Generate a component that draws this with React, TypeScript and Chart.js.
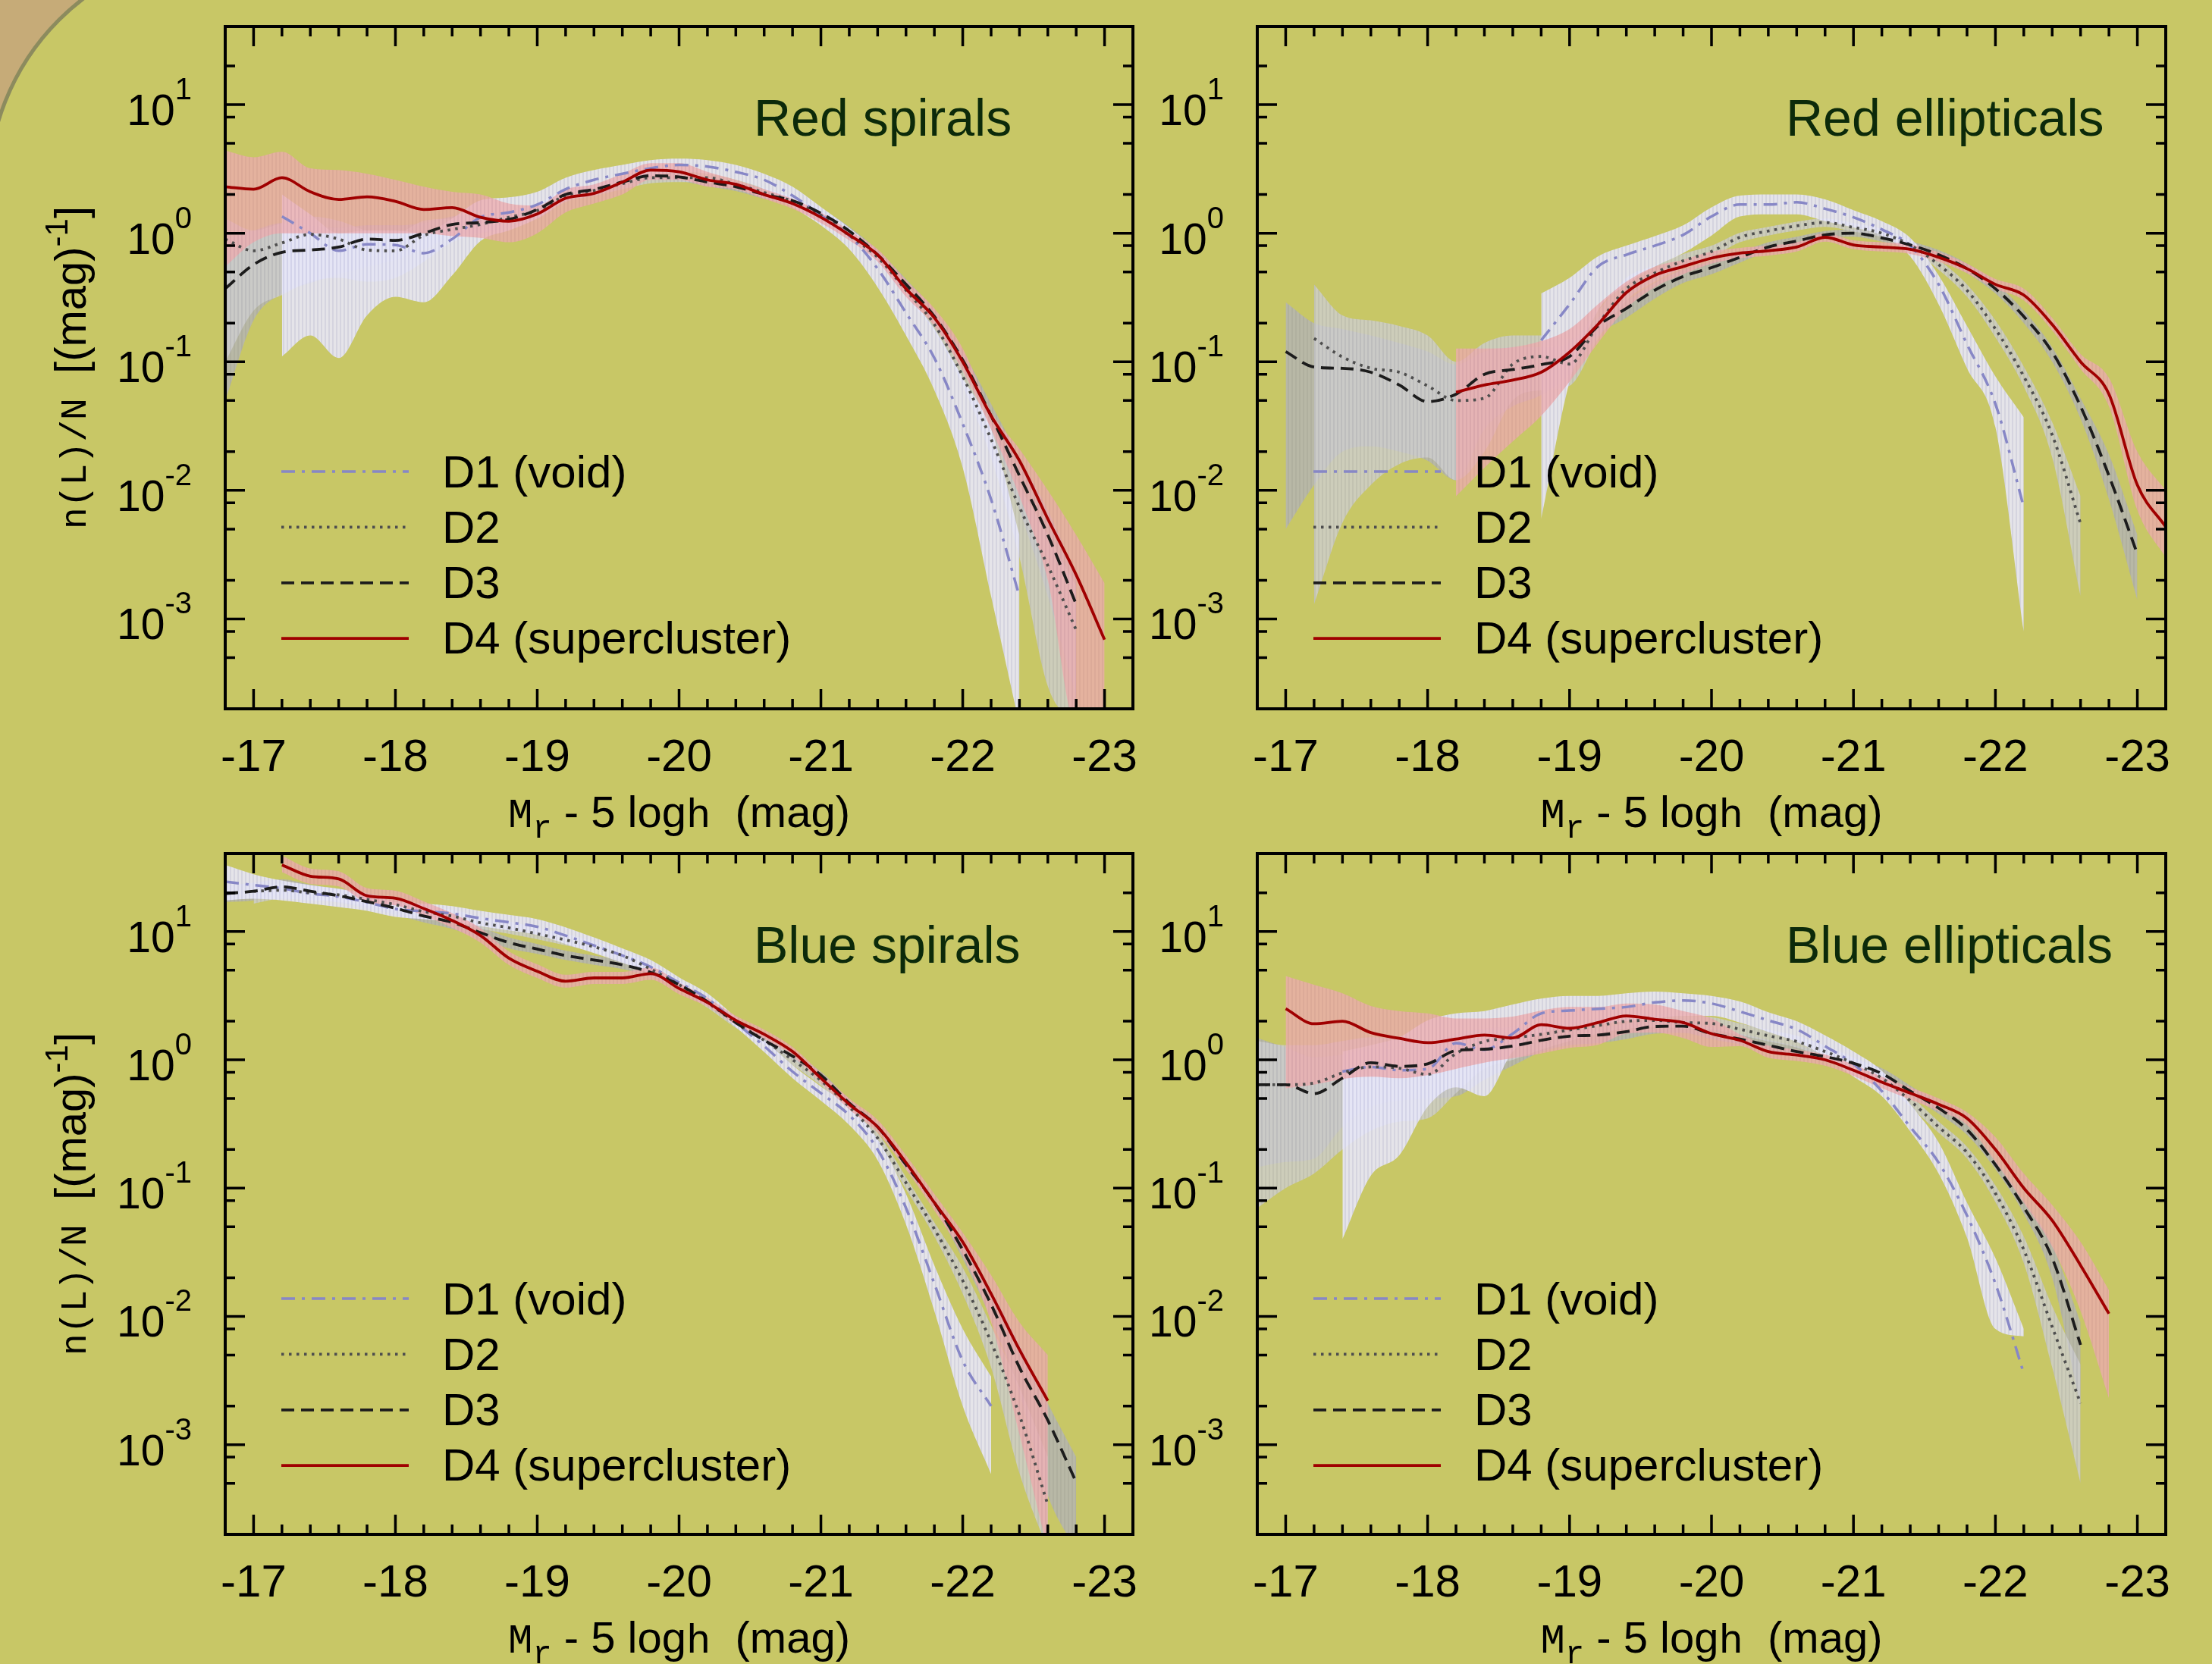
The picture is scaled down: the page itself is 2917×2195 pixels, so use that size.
import React, { useEffect, useRef } from "react";
import { Chart, registerables } from "chart.js";

Chart.register(...registerables);

const W = 2917;
const H = 2195;
const _ = null;

// absolute magnitude grid (M_r - 5 log h)
const MAG = [-16.8, -17.0, -17.2, -17.4, -17.6, -17.8, -18.0, -18.2, -18.4, -18.6, -18.8, -19.0, -19.2, -19.4, -19.6, -19.8, -20.0, -20.2, -20.4, -20.6, -20.8, -21.0, -21.2, -21.4, -21.6, -21.8, -22.0, -22.2, -22.4, -22.6, -22.8, -23.0, -23.2];

const X_TICKS = [-17, -18, -19, -20, -21, -22, -23];
const X_TICK_LABELS = ["-17", "-18", "-19", "-20", "-21", "-22", "-23"];
const Y_TICKS = [10, 1, 0.1, 0.01, 0.001];
const Y_TICK_EXP = ["1", "0", "-1", "-2", "-3"];
const Y_MINOR = [20, 8, 5, 2, 0.8, 0.5, 0.2, 0.08, 0.05, 0.02, 0.008, 0.005, 0.002, 0.0008, 0.0005];
const SERIES = ["D1 (void)", "D2", "D3", "D4 (supercluster)"];
const TITLES = ["Red spirals", "Red ellipticals", "Blue spirals", "Blue ellipticals"];

// ---------- Red spirals ----------
const RS_D1 = [_, _, 1.35, 1.0, 0.73, 0.82, 0.81, 0.70, 0.90, 1.33, 1.45, 1.67, 2.2, 2.6, 2.9, 3.2, 3.4, 3.3, 3.0, 2.6, 1.96, 1.38, 0.96, 0.53, 0.24, 0.107, 0.033, 0.0085, 0.0015, _, _, _, _];
const RS_D1_LO = [_, _, 0.11, 0.16, 0.107, 0.23, 0.32, 0.29, 0.47, 0.87, 1.05, 1.3, 1.8, 2.2, 2.5, 2.8, 3.0, 2.9, 2.6, 2.2, 1.6, 1.15, 0.75, 0.38, 0.16, 0.06, 0.015, 0.0015, 0.00015, _, _, _, _];
const RS_D1_HI = [_, _, 2.0, 1.4, 1.0, 1.05, 1.05, 1.0, 1.3, 1.8, 1.9, 2.1, 2.7, 3.1, 3.4, 3.7, 3.8, 3.7, 3.4, 2.9, 2.3, 1.6, 1.1, 0.7, 0.35, 0.18, 0.075, 0.03, 0.0045, _, _, _, _];
const RS_D2 = [0.9, 0.73, 0.84, 0.98, 0.90, 0.74, 0.73, 0.96, 1.07, 1.17, 1.33, 1.5, 1.96, 2.15, 2.43, 2.7, 2.7, 2.7, 2.4, 2.07, 1.77, 1.38, 0.96, 0.65, 0.36, 0.195, 0.077, 0.025, 0.0074, 0.0026, 0.00082, _, _];
const RS_D2_LO = [0.1, 0.25, 0.33, 0.42, 0.45, 0.42, 0.45, 0.6, 0.85, 1.0, 1.15, 1.3, 1.75, 1.95, 2.2, 2.45, 2.5, 2.5, 2.2, 1.9, 1.62, 1.26, 0.88, 0.59, 0.32, 0.17, 0.065, 0.018, 0.003, 0.0003, 0.00015, _, _];
const RS_D2_HI = [1.3, 1.05, 1.2, 1.35, 1.25, 1.05, 1.0, 1.25, 1.3, 1.35, 1.5, 1.7, 2.2, 2.4, 2.7, 3.0, 3.0, 2.9, 2.6, 2.25, 1.93, 1.5, 1.05, 0.72, 0.4, 0.22, 0.09, 0.033, 0.011, 0.0045, 0.0018, _, _];
const RS_D3 = [0.37, 0.57, 0.71, 0.74, 0.78, 0.90, 0.88, 1.0, 1.17, 1.21, 1.28, 1.53, 2.0, 2.19, 2.5, 2.8, 2.74, 2.5, 2.3, 2.0, 1.79, 1.43, 1.04, 0.68, 0.40, 0.225, 0.103, 0.038, 0.013, 0.0045, 0.0013, _, _];
const RS_D3_LO = [0.05, 0.21, 0.34, 0.41, 0.48, 0.55, 0.62, 0.75, 0.95, 1.0, 1.1, 1.35, 1.8, 2.0, 2.3, 2.6, 2.55, 2.32, 2.13, 1.85, 1.65, 1.32, 0.96, 0.62, 0.36, 0.2, 0.088, 0.03, 0.007, 0.0015, 0.00025, _, _];
const RS_D3_HI = [0.9, 1.05, 1.2, 1.15, 1.1, 1.15, 1.15, 1.2, 1.35, 1.4, 1.45, 1.7, 2.2, 2.4, 2.7, 3.0, 2.95, 2.7, 2.48, 2.16, 1.93, 1.55, 1.12, 0.74, 0.44, 0.25, 0.12, 0.047, 0.018, 0.007, 0.0022, _, _];
const RS_D4 = [2.3, 2.2, 2.7, 2.1, 1.83, 1.92, 1.77, 1.53, 1.58, 1.33, 1.24, 1.41, 1.87, 2.04, 2.5, 3.1, 3.0, 2.6, 2.4, 2.0, 1.7, 1.33, 0.97, 0.68, 0.37, 0.22, 0.10, 0.038, 0.017, 0.006, 0.0022, 0.00069, _];
const RS_D4_LO = [0.55, 0.85, 1.0, 1.0, 1.0, 1.0, 1.0, 1.0, 0.95, 0.92, 0.85, 1.0, 1.45, 1.7, 2.0, 2.6, 2.6, 2.3, 2.2, 1.85, 1.55, 1.2, 0.88, 0.6, 0.32, 0.19, 0.085, 0.03, 0.009, 0.002, 0.00015, 0.00015, _];
const RS_D4_HI = [4.4, 3.9, 4.3, 3.2, 3.1, 2.9, 2.6, 2.3, 2.1, 2.0, 1.7, 1.64, 2.2, 2.4, 2.9, 3.5, 3.5, 3.0, 2.6, 2.2, 1.85, 1.45, 1.05, 0.75, 0.43, 0.26, 0.127, 0.041, 0.021, 0.01, 0.0045, 0.0019, _];

// ---------- Red ellipticals ----------
const RE_D1 = [_, _, _, _, _, _, _, _, _, _, 0.147, 0.28, 0.55, 0.68, 0.8, 0.97, 1.35, 1.67, 1.67, 1.74, 1.55, 1.33, 1.07, 0.80, 0.40, 0.137, 0.047, 0.0074, _, _, _, _, _];
const RE_D1_LO = [_, _, _, _, _, _, _, _, _, _, 0.006, 0.07, 0.25, 0.40, 0.55, 0.7, 0.96, 1.35, 1.4, 1.4, 1.24, 1.11, 0.96, 0.66, 0.28, 0.089, 0.031, 0.0008, _, _, _, _, _];
const RE_D1_HI = [_, _, _, _, _, _, _, _, _, _, 0.34, 0.45, 0.66, 0.8, 0.95, 1.15, 1.59, 1.96, 2.0, 2.0, 1.83, 1.51, 1.24, 0.92, 0.47, 0.19, 0.077, 0.037, _, _, _, _, _];
const RE_D2 = [_, _, 0.152, 0.109, 0.089, 0.083, 0.065, 0.050, 0.052, 0.096, 0.11, 0.096, 0.195, 0.37, 0.49, 0.61, 0.72, 0.93, 1.04, 1.14, 1.21, 1.11, 1.0, 0.81, 0.57, 0.36, 0.18, 0.077, 0.027, 0.0055, _, _, _];
const RE_D2_LO = [_, _, 0.0013, 0.0056, 0.011, 0.016, 0.018, 0.012, 0.02, 0.05, 0.06, 0.065, 0.15, 0.3, 0.42, 0.54, 0.65, 0.85, 0.96, 1.05, 1.12, 1.03, 0.93, 0.75, 0.52, 0.32, 0.155, 0.064, 0.018, 0.0015, _, _, _];
const RE_D2_HI = [_, _, 0.4, 0.23, 0.21, 0.19, 0.16, 0.1, 0.14, 0.16, 0.16, 0.15, 0.25, 0.45, 0.56, 0.69, 0.8, 1.01, 1.12, 1.23, 1.3, 1.2, 1.08, 0.88, 0.62, 0.4, 0.21, 0.092, 0.034, 0.009, _, _, _];
const RE_D3 = [_, 0.12, 0.091, 0.089, 0.083, 0.066, 0.049, 0.056, 0.080, 0.087, 0.095, 0.11, 0.19, 0.26, 0.36, 0.46, 0.54, 0.65, 0.78, 0.87, 0.97, 1.0, 0.92, 0.81, 0.68, 0.53, 0.37, 0.225, 0.119, 0.045, 0.013, 0.0032, _];
const RE_D3_LO = [_, 0.005, 0.011, 0.02, 0.022, 0.02, 0.017, 0.012, 0.03, 0.045, 0.055, 0.08, 0.16, 0.22, 0.31, 0.41, 0.48, 0.59, 0.72, 0.81, 0.91, 0.94, 0.86, 0.76, 0.63, 0.49, 0.34, 0.2, 0.1, 0.036, 0.0085, 0.0014, _];
const RE_D3_HI = [_, 0.29, 0.2, 0.18, 0.16, 0.14, 0.12, 0.095, 0.12, 0.13, 0.13, 0.14, 0.22, 0.3, 0.41, 0.52, 0.6, 0.71, 0.85, 0.94, 1.04, 1.07, 0.99, 0.87, 0.74, 0.58, 0.41, 0.25, 0.13, 0.052, 0.019, 0.0045, _];
const RE_D4 = [_, _, _, _, _, _, _, 0.058, 0.066, 0.072, 0.083, 0.119, 0.195, 0.345, 0.47, 0.55, 0.64, 0.70, 0.73, 0.78, 0.93, 0.81, 0.78, 0.75, 0.65, 0.53, 0.40, 0.33, 0.195, 0.10, 0.056, 0.011, 0.0052];
const RE_D4_LO = [_, _, _, _, _, _, _, 0.009, 0.015, 0.024, 0.038, 0.07, 0.14, 0.26, 0.38, 0.48, 0.58, 0.64, 0.67, 0.72, 0.86, 0.75, 0.72, 0.69, 0.6, 0.49, 0.37, 0.3, 0.175, 0.088, 0.045, 0.007, 0.003];
const RE_D4_HI = [_, _, _, _, _, _, _, 0.127, 0.127, 0.13, 0.145, 0.18, 0.28, 0.42, 0.55, 0.62, 0.72, 0.77, 0.8, 0.85, 1.0, 0.88, 0.85, 0.82, 0.71, 0.58, 0.44, 0.37, 0.22, 0.115, 0.075, 0.02, 0.01];

// ---------- Blue spirals ----------
const BS_D1 = [24.5, 23, 21.7, 19.8, 18.7, 16.9, 15, 14.4, 13.8, 12.7, 11.8, 10.9, 9.3, 7.8, 6.5, 5.3, 4.0, 3.0, 1.95, 1.28, 0.81, 0.55, 0.37, 0.20, 0.07, 0.018, 0.0045, 0.002, _, _, _, _, _];
const BS_D1_LO = [17.5, 18, 17.5, 16.5, 15.5, 14.5, 13, 12.5, 12, 11, 10.2, 9.4, 8.0, 6.8, 5.7, 4.7, 3.6, 2.75, 1.8, 1.15, 0.72, 0.48, 0.31, 0.165, 0.052, 0.011, 0.002, 0.00059, _, _, _, _, _];
const BS_D1_HI = [33, 28, 25, 23, 21.5, 19.5, 17, 16.5, 15.8, 14.5, 13.5, 12.5, 10.8, 9.0, 7.4, 6.0, 4.4, 3.3, 2.15, 1.42, 0.91, 0.62, 0.43, 0.24, 0.09, 0.025, 0.008, 0.0034, _, _, _, _, _];
const BS_D2 = [_, 20.6, 21, 20, 19.3, 17.8, 16.2, 14.3, 13.2, 11.7, 10.7, 9.6, 8.6, 7.6, 6.5, 5.1, 3.85, 2.8, 1.95, 1.42, 1.0, 0.69, 0.43, 0.245, 0.11, 0.048, 0.019, 0.0063, 0.0017, 0.00034, _, _, _];
const BS_D2_LO = [_, 16.5, 18, 17.5, 17, 15.8, 14.4, 12.8, 11.8, 10.5, 9.6, 8.7, 7.8, 6.9, 5.9, 4.6, 3.5, 2.55, 1.77, 1.3, 0.91, 0.63, 0.39, 0.22, 0.098, 0.042, 0.015, 0.004, 0.0006, 0.00015, _, _, _];
const BS_D2_HI = [_, 23, 23.5, 22.5, 21.6, 19.9, 18.1, 16, 14.8, 13.1, 12, 10.7, 9.6, 8.4, 7.2, 5.6, 4.2, 3.05, 2.13, 1.55, 1.09, 0.75, 0.47, 0.27, 0.122, 0.054, 0.024, 0.0085, 0.0028, 0.0008, _, _, _];
const BS_D3 = [19.8, 20.6, 22.3, 20.6, 19, 17.1, 15.2, 13.2, 11.8, 9.8, 8.2, 7.3, 6.5, 6.0, 5.5, 4.8, 3.85, 2.84, 1.95, 1.42, 1.07, 0.76, 0.46, 0.30, 0.152, 0.077, 0.033, 0.0124, 0.004, 0.00155, 0.00051, _, _];
const BS_D3_LO = [17, 17.5, 19.5, 18.2, 16.8, 15.2, 13.5, 11.8, 10.5, 8.8, 7.4, 6.7, 6.0, 5.5, 5.1, 4.45, 3.6, 2.66, 1.83, 1.33, 1.0, 0.71, 0.43, 0.28, 0.14, 0.071, 0.028, 0.0095, 0.0025, 0.0004, 0.00015, _, _];
const BS_D3_HI = [23, 24, 25.5, 23.2, 21.4, 19.2, 17.1, 14.8, 13.2, 10.9, 9.0, 8.0, 7.1, 6.5, 5.95, 5.2, 4.1, 3.03, 2.08, 1.52, 1.14, 0.81, 0.49, 0.32, 0.164, 0.083, 0.039, 0.016, 0.006, 0.0021, 0.0008, _, _];
const BS_D4 = [_, _, 33, 27, 25.7, 19, 18.2, 15.1, 12.2, 9.3, 6.2, 4.9, 4.1, 4.35, 4.35, 4.7, 3.6, 2.8, 2.03, 1.58, 1.16, 0.72, 0.45, 0.30, 0.158, 0.077, 0.038, 0.015, 0.0055, 0.0022, _, _, _];
const BS_D4_LO = [_, _, 29, 23.5, 22.5, 16.8, 16, 13.3, 10.7, 8.2, 5.5, 4.35, 3.65, 3.9, 3.9, 4.2, 3.25, 2.6, 1.88, 1.46, 1.07, 0.66, 0.41, 0.27, 0.14, 0.067, 0.03, 0.009, 0.0012, 0.00015, _, _, _];
const BS_D4_HI = [_, _, 39, 31, 29.5, 21.8, 20.8, 17.2, 13.9, 10.6, 7.0, 5.55, 4.6, 4.85, 4.85, 5.25, 4.0, 3.05, 2.2, 1.72, 1.26, 0.79, 0.5, 0.34, 0.18, 0.09, 0.045, 0.021, 0.009, 0.005, _, _, _];

// ---------- Blue ellipticals ----------
const BE_D1 = [_, _, _, 0.81, 0.88, 0.83, 0.85, 1.35, 1.2, 1.6, 2.3, 2.42, 2.5, 2.58, 2.8, 2.9, 2.75, 2.38, 2.03, 1.73, 1.28, 0.93, 0.57, 0.30, 0.158, 0.061, 0.018, 0.0036, _, _, _, _, _];
const BE_D1_LO = [_, _, _, 0.04, 0.125, 0.18, 0.43, 0.61, 0.52, 1.16, 1.6, 1.8, 1.9, 2.0, 2.1, 2.2, 2.2, 1.95, 1.65, 1.38, 1.06, 0.74, 0.52, 0.277, 0.13, 0.041, 0.008, 0.007, _, _, _, _, _];
const BE_D1_HI = [_, _, _, 1.16, 1.3, 1.5, 2.03, 2.3, 2.4, 2.7, 3.0, 3.15, 3.15, 3.3, 3.4, 3.3, 3.15, 2.85, 2.35, 2.0, 1.55, 1.16, 0.82, 0.45, 0.227, 0.077, 0.0285, 0.008, _, _, _, _, _];
const BE_D2 = [0.64, 0.64, 0.66, 0.79, 0.88, 0.86, 0.77, 1.12, 1.39, 1.48, 1.58, 1.71, 1.85, 2.0, 2.03, 1.95, 1.92, 1.73, 1.54, 1.39, 1.16, 0.94, 0.72, 0.48, 0.30, 0.189, 0.091, 0.033, 0.0083, 0.0021, _, _, _];
const BE_D2_LO = [0.07, 0.1, 0.13, 0.2, 0.28, 0.33, 0.35, 0.55, 0.85, 1.0, 1.2, 1.4, 1.6, 1.75, 1.8, 1.75, 1.72, 1.56, 1.39, 1.25, 1.04, 0.85, 0.65, 0.43, 0.27, 0.17, 0.078, 0.026, 0.004, 0.0005, _, _, _];
const BE_D2_HI = [1.4, 1.3, 1.3, 1.4, 1.5, 1.45, 1.35, 1.6, 1.75, 1.8, 1.9, 2.0, 2.1, 2.25, 2.28, 2.2, 2.15, 1.92, 1.71, 1.54, 1.29, 1.04, 0.8, 0.53, 0.33, 0.21, 0.105, 0.042, 0.012, 0.0042, _, _, _];
const BE_D3 = [0.64, 0.64, 0.545, 0.72, 0.95, 0.89, 0.93, 1.18, 1.21, 1.28, 1.42, 1.53, 1.56, 1.66, 1.82, 1.83, 1.6, 1.45, 1.3, 1.16, 1.06, 0.94, 0.78, 0.57, 0.42, 0.286, 0.152, 0.071, 0.0285, 0.006, _, _, _];
const BE_D3_LO = [0.146, 0.16, 0.17, 0.3, 0.43, 0.48, 0.5, 0.52, 0.7, 0.9, 1.15, 1.3, 1.35, 1.45, 1.6, 1.62, 1.45, 1.32, 1.19, 1.06, 0.97, 0.86, 0.71, 0.52, 0.38, 0.26, 0.14, 0.063, 0.02, 0.002, _, _, _];
const BE_D3_HI = [1.48, 1.25, 1.05, 1.1, 1.25, 1.2, 1.2, 1.4, 1.45, 1.5, 1.65, 1.75, 1.78, 1.9, 2.05, 2.05, 1.78, 1.6, 1.43, 1.28, 1.17, 1.03, 0.86, 0.63, 0.46, 0.315, 0.165, 0.08, 0.036, 0.009, _, _, _];
const BE_D4 = [_, 2.5, 1.91, 2.0, 1.63, 1.47, 1.36, 1.45, 1.56, 1.48, 1.88, 1.76, 1.95, 2.2, 2.07, 1.95, 1.6, 1.42, 1.16, 1.09, 1.0, 0.83, 0.67, 0.55, 0.45, 0.35, 0.20, 0.10, 0.056, 0.025, 0.0105, _, _];
const BE_D4_LO = [_, 0.6, 0.64, 0.71, 0.74, 0.72, 0.76, 0.85, 0.95, 1.03, 1.12, 1.24, 1.31, 1.6, 1.63, 1.48, 1.26, 1.28, 1.04, 0.98, 0.9, 0.75, 0.6, 0.49, 0.4, 0.31, 0.16, 0.077, 0.035, 0.011, 0.0023, _, _];
const BE_D4_HI = [_, 4.5, 3.85, 3.3, 2.63, 2.4, 2.3, 2.1, 2.1, 2.17, 2.42, 2.58, 2.58, 2.75, 2.7, 2.4, 2.1, 1.58, 1.29, 1.2, 1.1, 0.92, 0.74, 0.61, 0.5, 0.39, 0.25, 0.13, 0.074, 0.038, 0.016, _, _];

const SANS = '"Liberation Sans", Arial, Helvetica, sans-serif';
const MONO = '"Liberation Mono", "DejaVu Sans Mono", monospace';

const STYLE = [
  { color: "#8787c6", width: 3.5, dash: [18, 9, 4, 9], band: ["rgba(232,232,252,0.88)", "rgba(214,214,240,0.88)"] },
  { color: "#4e4e4e", width: 3.8, dash: [3.5, 6.5], band: ["rgba(206,206,208,0.80)", "rgba(192,192,196,0.80)"] },
  { color: "#1c1c1c", width: 3.8, dash: [17, 9], band: ["rgba(180,180,182,0.80)", "rgba(170,170,174,0.80)"] },
  { color: "#a00000", width: 3.8, dash: [], band: ["rgba(236,172,174,0.78)", "rgba(226,162,166,0.78)"] },
];

type Panel = {
  title: string;
  box: number[];
  yTitle: boolean;
  lines: (number | null)[][];
  lo: (number | null)[][];
  hi: (number | null)[][];
};

const PANELS: Panel[] = [
  { title: TITLES[0], box: [297, 35, 1494, 935], yTitle: true,
    lines: [RS_D1, RS_D2, RS_D3, RS_D4], lo: [RS_D1_LO, RS_D2_LO, RS_D3_LO, RS_D4_LO], hi: [RS_D1_HI, RS_D2_HI, RS_D3_HI, RS_D4_HI] },
  { title: TITLES[1], box: [1658, 35, 2856, 935], yTitle: false,
    lines: [RE_D1, RE_D2, RE_D3, RE_D4], lo: [RE_D1_LO, RE_D2_LO, RE_D3_LO, RE_D4_LO], hi: [RE_D1_HI, RE_D2_HI, RE_D3_HI, RE_D4_HI] },
  { title: TITLES[2], box: [297, 1126, 1494, 2024], yTitle: true,
    lines: [BS_D1, BS_D2, BS_D3, BS_D4], lo: [BS_D1_LO, BS_D2_LO, BS_D3_LO, BS_D4_LO], hi: [BS_D1_HI, BS_D2_HI, BS_D3_HI, BS_D4_HI] },
  { title: TITLES[3], box: [1658, 1126, 2856, 2024], yTitle: false,
    lines: [BE_D1, BE_D2, BE_D3, BE_D4], lo: [BE_D1_LO, BE_D2_LO, BE_D3_LO, BE_D4_LO], hi: [BE_D1_HI, BE_D2_HI, BE_D3_HI, BE_D4_HI] },
];

function pts(vals: (number | null)[]) {
  return MAG.map((m, i) => ({ x: m, y: vals[i] }));
}

// vertical hatch texture used by the shaded uncertainty bands
function stripePattern(c1: string, c2: string): CanvasPattern | string {
  const cv = document.createElement("canvas");
  cv.width = 5;
  cv.height = 4;
  const g = cv.getContext("2d");
  if (!g) return c1;
  g.fillStyle = c1;
  g.fillRect(0, 0, 3, 4);
  g.fillStyle = c2;
  g.fillRect(3, 0, 2, 4);
  const pat = g.createPattern(cv, "repeat");
  return pat || c1;
}

type Run = { t: string; font: string; dy?: number };

function drawRuns(ctx: CanvasRenderingContext2D, runs: Run[], x: number, y: number, align: "left" | "center" | "right") {
  let total = 0;
  const widths = runs.map((r) => {
    ctx.font = r.font;
    const w = ctx.measureText(r.t).width;
    total += w;
    return w;
  });
  let cx = align === "center" ? x - total / 2 : align === "right" ? x - total : x;
  ctx.textAlign = "left";
  ctx.textBaseline = "alphabetic";
  runs.forEach((r, i) => {
    ctx.font = r.font;
    ctx.fillText(r.t, cx, y + (r.dy || 0));
    cx += widths[i];
  });
}

function makeDeco(p: Panel) {
  return {
    id: "deco",
    afterDraw(chart: any) {
      const ctx: CanvasRenderingContext2D = chart.ctx;
      const a = chart.chartArea;
      const xs = chart.scales.x;
      const ys = chart.scales.y;
      ctx.save();
      ctx.strokeStyle = "#000";
      ctx.fillStyle = "#000";
      ctx.lineCap = "butt";
      ctx.setLineDash([]);
      // ticks (inward, mirrored on all sides)
      ctx.lineWidth = 3.5;
      ctx.beginPath();
      for (let k = 0; k <= 30; k++) {
        const v = -17 - k * 0.2;
        const px = xs.getPixelForValue(v);
        const len = k % 5 === 0 ? 26 : 13;
        ctx.moveTo(px, a.bottom);
        ctx.lineTo(px, a.bottom - len);
        ctx.moveTo(px, a.top);
        ctx.lineTo(px, a.top + len);
      }
      const yt = (v: number, len: number) => {
        const py = ys.getPixelForValue(v);
        ctx.moveTo(a.left, py);
        ctx.lineTo(a.left + len, py);
        ctx.moveTo(a.right, py);
        ctx.lineTo(a.right - len, py);
      };
      Y_TICKS.forEach((v) => yt(v, 26));
      Y_MINOR.forEach((v) => yt(v, 13));
      ctx.stroke();
      // frame
      ctx.lineWidth = 4;
      ctx.strokeRect(a.left, a.top, a.right - a.left, a.bottom - a.top);

      // x tick labels
      ctx.font = `60px ${SANS}`;
      ctx.textAlign = "center";
      ctx.textBaseline = "alphabetic";
      X_TICKS.forEach((v, i) => {
        ctx.fillText(X_TICK_LABELS[i], xs.getPixelForValue(v), a.bottom + 82);
      });
      // y tick labels
      Y_TICKS.forEach((v, i) => {
        const py = ys.getPixelForValue(v);
        drawRuns(ctx, [
          { t: "10", font: `57px ${SANS}`, dy: 27 },
          { t: Y_TICK_EXP[i], font: `40px ${SANS}`, dy: -7 },
        ], a.left - 44, py, "right");
      });

      // x axis title
      const cxm = (a.left + a.right) / 2;
      drawRuns(ctx, [
        { t: "M", font: `54px ${MONO}` },
        { t: "r", font: `42px ${MONO}`, dy: 14 },
        { t: " - 5", font: `58px ${SANS}` },
        { t: " log", font: `58px ${SANS}` },
        { t: "h", font: `54px ${MONO}` },
        { t: "  (mag)", font: `58px ${SANS}` },
      ], cxm, a.bottom + 156, "center");

      // y axis title
      if (p.yTitle) {
        ctx.save();
        ctx.translate(a.left - 184, (a.top + a.bottom) / 2);
        ctx.rotate(-Math.PI / 2);
        drawRuns(ctx, [
          { t: "n(L)/N", font: `48px ${MONO}` },
          { t: "  [(mag)", font: `58px ${SANS}` },
          { t: "-1", font: `42px ${SANS}`, dy: -24 },
          { t: "]", font: `58px ${SANS}` },
        ], 0, 0, "center");
        ctx.restore();
      }

      // panel title
      ctx.fillStyle = "#0c2a0a";
      ctx.font = `68px ${SANS}`;
      ctx.textAlign = "left";
      ctx.fillText(p.title, a.left + 697, a.top + 144);

      // legend
      for (let k = 0; k < 4; k++) {
        const st = STYLE[k];
        const ly = a.top + 587 + 73.4 * k;
        ctx.strokeStyle = st.color;
        ctx.lineWidth = st.width;
        ctx.setLineDash(st.dash);
        ctx.beginPath();
        ctx.moveTo(a.left + 74, ly);
        ctx.lineTo(a.left + 242, ly);
        ctx.stroke();
        ctx.setLineDash([]);
        ctx.fillStyle = "#000";
        ctx.font = `60px ${SANS}`;
        ctx.fillText(SERIES[k], a.left + 286, a.top + 607.5 + 73.3 * k);
      }
      ctx.restore();
    },
  };
}

function PanelChart({ p }: { p: Panel }) {
  const ref = useRef<HTMLCanvasElement>(null);
  useEffect(() => {
    const [L, T, R, B] = p.box;
    const datasets: any[] = [];
    const bandOrder = [12, 13, 14, 11];
    const lineOrder = [3, 2, 1, 0];
    for (let k = 0; k < 4; k++) {
      datasets.push({
        data: pts(p.lo[k]),
        borderWidth: 0,
        borderColor: "rgba(0,0,0,0)",
        pointRadius: 0,
        fill: false,
        order: 30,
        cubicInterpolationMode: "monotone",
        spanGaps: false,
      });
      datasets.push({
        data: pts(p.hi[k]),
        borderWidth: 0,
        borderColor: "rgba(0,0,0,0)",
        backgroundColor: stripePattern(STYLE[k].band[0], STYLE[k].band[1]),
        pointRadius: 0,
        fill: "-1",
        order: bandOrder[k],
        cubicInterpolationMode: "monotone",
        spanGaps: false,
      });
    }
    for (let k = 0; k < 4; k++) {
      const st = STYLE[k];
      datasets.push({
        label: SERIES[k],
        data: pts(p.lines[k]),
        borderColor: st.color,
        borderWidth: st.width,
        borderDash: st.dash,
        pointRadius: 0,
        fill: false,
        order: lineOrder[k],
        cubicInterpolationMode: "monotone",
        spanGaps: false,
      });
    }
    const chart = new Chart(ref.current as HTMLCanvasElement, {
      type: "line",
      data: { datasets },
      options: {
        responsive: false,
        animation: false,
        devicePixelRatio: 1,
        events: [],
        layout: { padding: { left: L, top: T, right: W - R, bottom: H - B } },
        plugins: { legend: { display: false }, tooltip: { enabled: false } },
        scales: {
          x: { type: "linear", min: -23.2, max: -16.8, reverse: true, display: false },
          y: { type: "logarithmic", min: 2e-4, max: 40.5, display: false },
        },
      } as any,
      plugins: [makeDeco(p)],
    });
    return () => chart.destroy();
  }, []);
  return <canvas ref={ref} width={W} height={H} style={{ position: "absolute", left: 0, top: 0 }} />;
}

export default function App() {
  return (
    <div style={{ position: "fixed", left: 0, top: 0, width: W, height: H, overflow: "hidden", background: "#c6ab78" }}>
      <div
        style={{
          position: "absolute",
          left: -18,
          top: -69,
          width: W + 80,
          height: H + 140,
          background: "#c8c766",
          borderTopLeftRadius: 320,
          border: "5px solid #8c8b5e",
          boxSizing: "border-box",
        }}
      />
      {PANELS.map((p, i) => (
        <PanelChart key={i} p={p} />
      ))}
    </div>
  );
}
